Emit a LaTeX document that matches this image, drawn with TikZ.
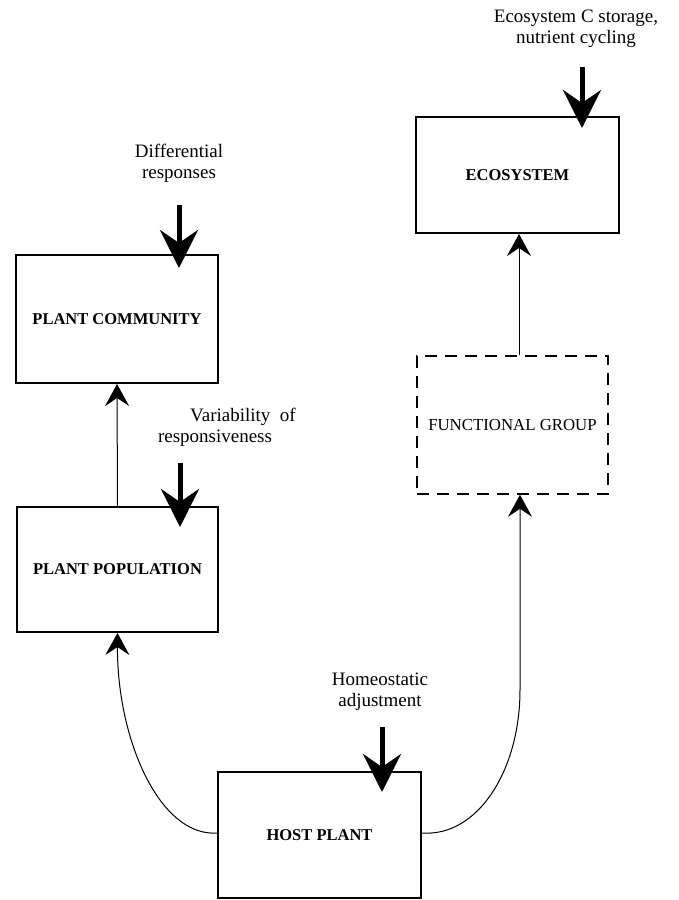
\documentclass[tikz,border=0pt]{standalone}
\usepackage{fontspec}
\setmainfont{Liberation Serif}
\usetikzlibrary{arrows.meta}
\begin{document}
\begin{tikzpicture}[x=1pt,y=-1pt,
  box/.style={draw,line width=2pt,inner sep=0pt,font=\fontsize{16.5}{19}\selectfont\bfseries},
  dbox/.style={draw,line width=1.5pt,dash pattern=on 12pt off 8pt,inner sep=0pt,font=\fontsize{16.8}{19}\selectfont},
  lbl/.style={font=\fontsize{19}{21}\selectfont,align=center,inner sep=0pt},
  bigarrow/.style={line width=5pt,-{Stealth[length=38pt,width=38pt,inset=13pt]}},
  thinarrow/.style={line width=1pt,-{Stealth[length=22pt,width=24pt,inset=8pt]}}]
\useasboundingbox (0,0) rectangle (679,900);

\node[box,minimum width=203pt,minimum height=116pt] (eco) at (517.5,175) {ECOSYSTEM};
\node[box,minimum width=202pt,minimum height=128pt] (comm) at (117,319) {PLANT COMMUNITY};
\node[box,minimum width=201pt,minimum height=125pt] (pop) at (117.5,569.5) {PLANT POPULATION};
\node[dbox,minimum width=191pt,minimum height=138pt] (fg) at (512.5,425) {FUNCTIONAL GROUP};
\node[box,minimum width=203pt,minimum height=126pt] (hp) at (319.5,835) {HOST PLANT};

\node[lbl] (tEco) at (576,29) {Ecosystem C storage,\\nutrient cycling};
\node[lbl] (tDiff) at (179,163) {Differential\\responses};
\node[lbl] (tVar1) at (243,417) {Variability\ \ of};
\node[lbl] (tVar2) at (215,438) {responsiveness};
\node[lbl] (tHom) at (380,692) {Homeostatic\\adjustment};

\coordinate (aEcoS) at (582,67);
\coordinate (aEcoE) at (582,128);
\coordinate (aComS) at (179,205);
\coordinate (aComE) at (179,268);
\coordinate (aPopS) at (180,463);
\coordinate (aPopE) at (180,527);
\coordinate (aHpS) at (382,727);
\coordinate (aHpE) at (382,792);

\draw[bigarrow] (aEcoS) -- (aEcoE);
\draw[bigarrow] (aComS) -- (aComE);
\draw[bigarrow] (aPopS) -- (aPopE);
\draw[bigarrow] (aHpS) -- (aHpE);

\draw[thinarrow] (pop.north) -- (comm.south);
\draw[thinarrow] ([xshift=6.5pt]fg.north) -- ([xshift=6.5pt]fg.north |- eco.south);
\draw[thinarrow] ([yshift=2pt]hp.west) .. controls (160,837) and (117,740) .. (pop.south);
\coordinate (rturn) at (520,690);
\draw[thinarrow] ([yshift=2pt]hp.east) .. controls (478,837) and (520,770) .. (rturn) -- ([xshift=7.5pt]fg.south);
\end{tikzpicture}
\end{document}
